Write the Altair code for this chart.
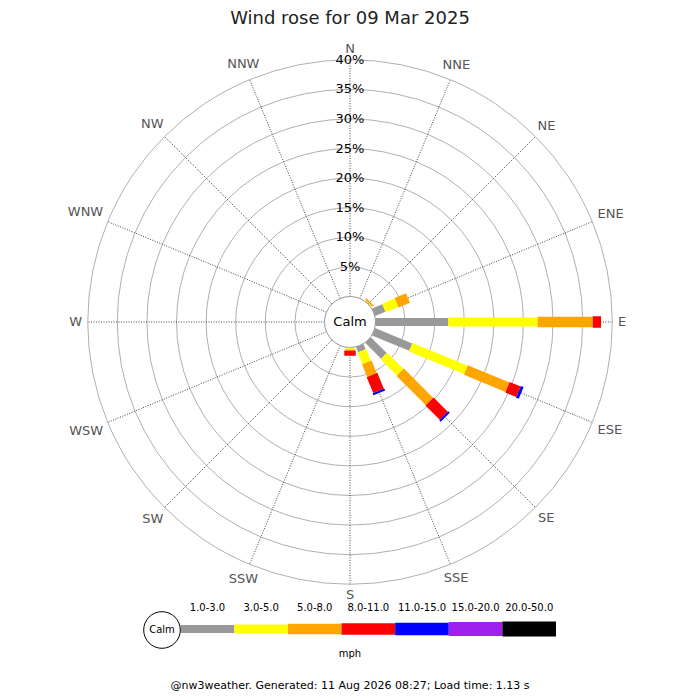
import math
import altair as alt
import pandas as pd

# ---------------- data ----------------
directions = ["N", "NNE", "NE", "ENE", "E", "ESE", "SE", "SSE",
              "S", "SSW", "SW", "WSW", "W", "WNW", "NW", "NNW"]
speed_bins = ["1.0-3.0", "3.0-5.0", "5.0-8.0", "8.0-11.0",
              "11.0-15.0", "15.0-20.0", "20.0-50.0"]
bin_colors = ["#999999", "#ffff00", "#ffa500", "#ff0000",
              "#0000ff", "#a020f0", "#000000"]
# percentage of time per direction for each speed bin
freq_1_3   = [0, 0, 0.1, 1.9, 12.3, 6.8, 3.8, 0.95, 0.05, 0, 0, 0, 0, 0, 0, 0]
freq_3_5   = [0, 0, 0.1, 2.3, 15.1, 10.1, 3.9, 2.15, 0.3, 0, 0, 0, 0, 0, 0, 0]
freq_5_8   = [0, 0, 0.3, 2.1, 9.3, 7.6, 7.0, 2.3, 0.2, 0, 0, 0, 0, 0, 0, 0]
freq_8_11  = [0, 0, 0, 0, 1.4, 2.0, 3.4, 2.9, 0.85, 0, 0, 0, 0, 0, 0, 0]
freq_11_15 = [0, 0, 0, 0, 0, 0.5, 0.35, 0.35, 0, 0, 0, 0, 0, 0, 0, 0]
freq_15_20 = [0] * 16
freq_20_50 = [0] * 16
ring_pcts = [5, 10, 15, 20, 25, 30, 35, 40]
title_text = "Wind rose for 09 Mar 2025"
unit_text = "mph"
calm_text = "Calm"
footer_text = "@nw3weather. Generated: 11 Aug 2026 08:27; Load time: 1.13 s"

# ---------------- layout / style ----------------
W = H = 684
CX, CY = 342, 314          # rose centre in plot pixels
K = 5.92                   # pixels per percent
CALM = 4.3                 # calm circle radius (percent units)
RMAX = 40
bar_widths = [8, 15, 20, 23, 25, 27, 29]
FONT = "DejaVu Sans"
LAB_SIZE = 13
CHAR_EM = {"N": 0.748, "E": 0.632, "S": 0.635, "W": 0.989}

XS = alt.Scale(domain=[-CX / K, (W - CX) / K], nice=False, zero=False)
YS = alt.Scale(domain=[-(H - CY) / K, CY / K], nice=False, zero=False)
RS = alt.Scale(type="linear", domain=[0, CX / K], range=[0, CX], zero=True, nice=False)
LX = alt.Scale(domain=[0, len(speed_bins)], range=[172.7, 548], nice=False, zero=False)
COL = alt.Scale(domain=speed_bins, range=bin_colors)
SW = alt.Scale(domain=speed_bins, range=bar_widths)


def X(f):
    return alt.X(f, type="quantitative", scale=XS, axis=None)


def Y(f):
    return alt.Y(f, type="quantitative", scale=YS, axis=None)


# bars table
series = [freq_1_3, freq_3_5, freq_5_8, freq_8_11, freq_11_15, freq_15_20, freq_20_50]
rows = []
for d, name in enumerate(directions):
    cum = 0.0
    for b, s in enumerate(series):
        v = s[d]
        if v > 0:
            rows.append(dict(dir=name, theta=d * 22.5, bin=speed_bins[b], order=b,
                             r0=CALM + cum, r1=CALM + cum + v))
        cum += v
bars_df = pd.DataFrame(rows)

spokes_df = pd.DataFrame(dict(theta=[i * 22.5 for i in range(16)],
                              r0=[CALM] * 16, r1=[CALM + RMAX] * 16))
rings_df = pd.DataFrame(dict(r=[CALM + p for p in ring_pcts], cx=0, cy=0))
pct_df = pd.DataFrame(dict(x=0, y=[CALM + p for p in ring_pcts],
                           label=[f"{p}%" for p in ring_pcts]))

# compass labels: box placed just outside the outer ring
lab_rows = []
for i, name in enumerate(directions):
    a = math.radians(i * 22.5)
    hw = sum(CHAR_EM[ch] for ch in name) * LAB_SIZE / 2
    hh = 5.0
    r_px = 268 + hw * abs(math.sin(a)) + hh * abs(math.cos(a))
    lab_rows.append(dict(label=name, theta=i * 22.5, r=r_px / K))
lab_df = pd.DataFrame(lab_rows)

polar_calc = dict(
    x0="datum.r0 * sin(datum.theta * PI / 180)",
    y0="datum.r0 * cos(datum.theta * PI / 180)",
    x1="datum.r1 * sin(datum.theta * PI / 180)",
    y1="datum.r1 * cos(datum.theta * PI / 180)",
)

rings = alt.Chart(rings_df).mark_arc(
    filled=False, stroke="#b0b0b0", strokeWidth=1, theta=0, theta2=2 * math.pi
).encode(x=X("cx"), y=Y("cy"), radius=alt.Radius("r:Q", scale=RS, stack=None))

spokes = alt.Chart(spokes_df).transform_calculate(**polar_calc).mark_rule(
    color="#444444", strokeWidth=1, strokeDash=[1, 1.5]
).encode(x=X("x0"), y=Y("y0"), x2="x1", y2="y1")

calm_df = pd.DataFrame(dict(r=[CALM], cx=[0], cy=[0], label=[calm_text]))
calm_circle = alt.Chart(calm_df).mark_arc(
    fill="white", stroke="#999999", strokeWidth=1, theta=0, theta2=2 * math.pi
).encode(x=X("cx"), y=Y("cy"), radius=alt.Radius("r:Q", scale=RS, stack=None))
calm_label = alt.Chart(calm_df).mark_text(
    font=FONT, fontSize=13, color="black", align="center", baseline="middle"
).encode(x=X("cx"), y=Y("cy"), text="label:N")

bars = alt.Chart(bars_df).transform_calculate(**polar_calc).mark_rule(
    strokeCap="butt"
).encode(
    x=X("x0"), y=Y("y0"), x2="x1", y2="y1",
    color=alt.Color("bin:N", scale=COL, legend=None),
    strokeWidth=alt.StrokeWidth("bin:N", scale=SW, legend=None),
    order=alt.Order("order:Q"),
)

pct_labels = alt.Chart(pct_df).mark_text(
    font=FONT, fontSize=13, color="black", align="center", baseline="middle"
).encode(x=X("x"), y=Y("y"), text="label:N")

compass = alt.Chart(lab_df).transform_calculate(
    lx="datum.r * sin(datum.theta * PI / 180)",
    ly="datum.r * cos(datum.theta * PI / 180)",
).mark_text(
    font=FONT, fontSize=LAB_SIZE, color="#555555", align="center", baseline="middle"
).encode(x=X("lx"), y=Y("ly"), text="label:N")

# legend
leg_df = pd.DataFrame(dict(bin=speed_bins,
                           i0=list(range(len(speed_bins))),
                           i1=[i + 1 for i in range(len(speed_bins))],
                           ic=[i + 0.5 for i in range(len(speed_bins))]))
leg_bars = alt.Chart(leg_df).mark_rule(strokeCap="butt").encode(
    x=alt.X("i0:Q", scale=LX, axis=None), x2="i1",
    y=alt.value(621),
    color=alt.Color("bin:N", scale=COL, legend=None),
    strokeWidth=alt.StrokeWidth("bin:N", scale=SW, legend=None),
)
leg_labels = alt.Chart(leg_df).mark_text(
    font=FONT, fontSize=10, color="black", align="center", baseline="middle"
).encode(x=alt.X("ic:Q", scale=LX, axis=None), y=alt.value(600), text="bin:N")

one = pd.DataFrame(dict(a=[0]))
leg_calm = alt.Chart(one).mark_point(
    shape="circle", size=1340, fill="white", fillOpacity=1, stroke="black", strokeWidth=1, opacity=1
).encode(x=alt.value(154), y=alt.value(622))
leg_calm_text = alt.Chart(one).mark_text(
    text=calm_text, font=FONT, fontSize=10, color="black", align="center", baseline="middle"
).encode(x=alt.value(154), y=alt.value(622))
unit_label = alt.Chart(one).mark_text(
    text=unit_text, font=FONT, fontSize=10, color="black", align="center", baseline="middle"
).encode(x=alt.value(342), y=alt.value(646))
footer = alt.Chart(one).mark_text(
    text=footer_text, font=FONT, fontSize=11, color="black", align="center", baseline="alphabetic"
).encode(x=alt.value(342), y=alt.value(681))
title = alt.Chart(one).mark_text(
    text=title_text, font=FONT, fontSize=18, color="#222222", align="center", baseline="alphabetic"
).encode(x=alt.value(342), y=alt.value(16))

chart = alt.layer(
    rings, spokes, calm_circle, bars, pct_labels, calm_label, compass,
    leg_bars, leg_labels, leg_calm, leg_calm_text, unit_label, footer, title
).resolve_scale(x="independent").properties(
    width=W, height=H, autosize=alt.AutoSizeParams(type="none"), padding=0
).configure_view(strokeWidth=0)

chart.save("out.html", embed_options={"renderer": "svg", "actions": False})
